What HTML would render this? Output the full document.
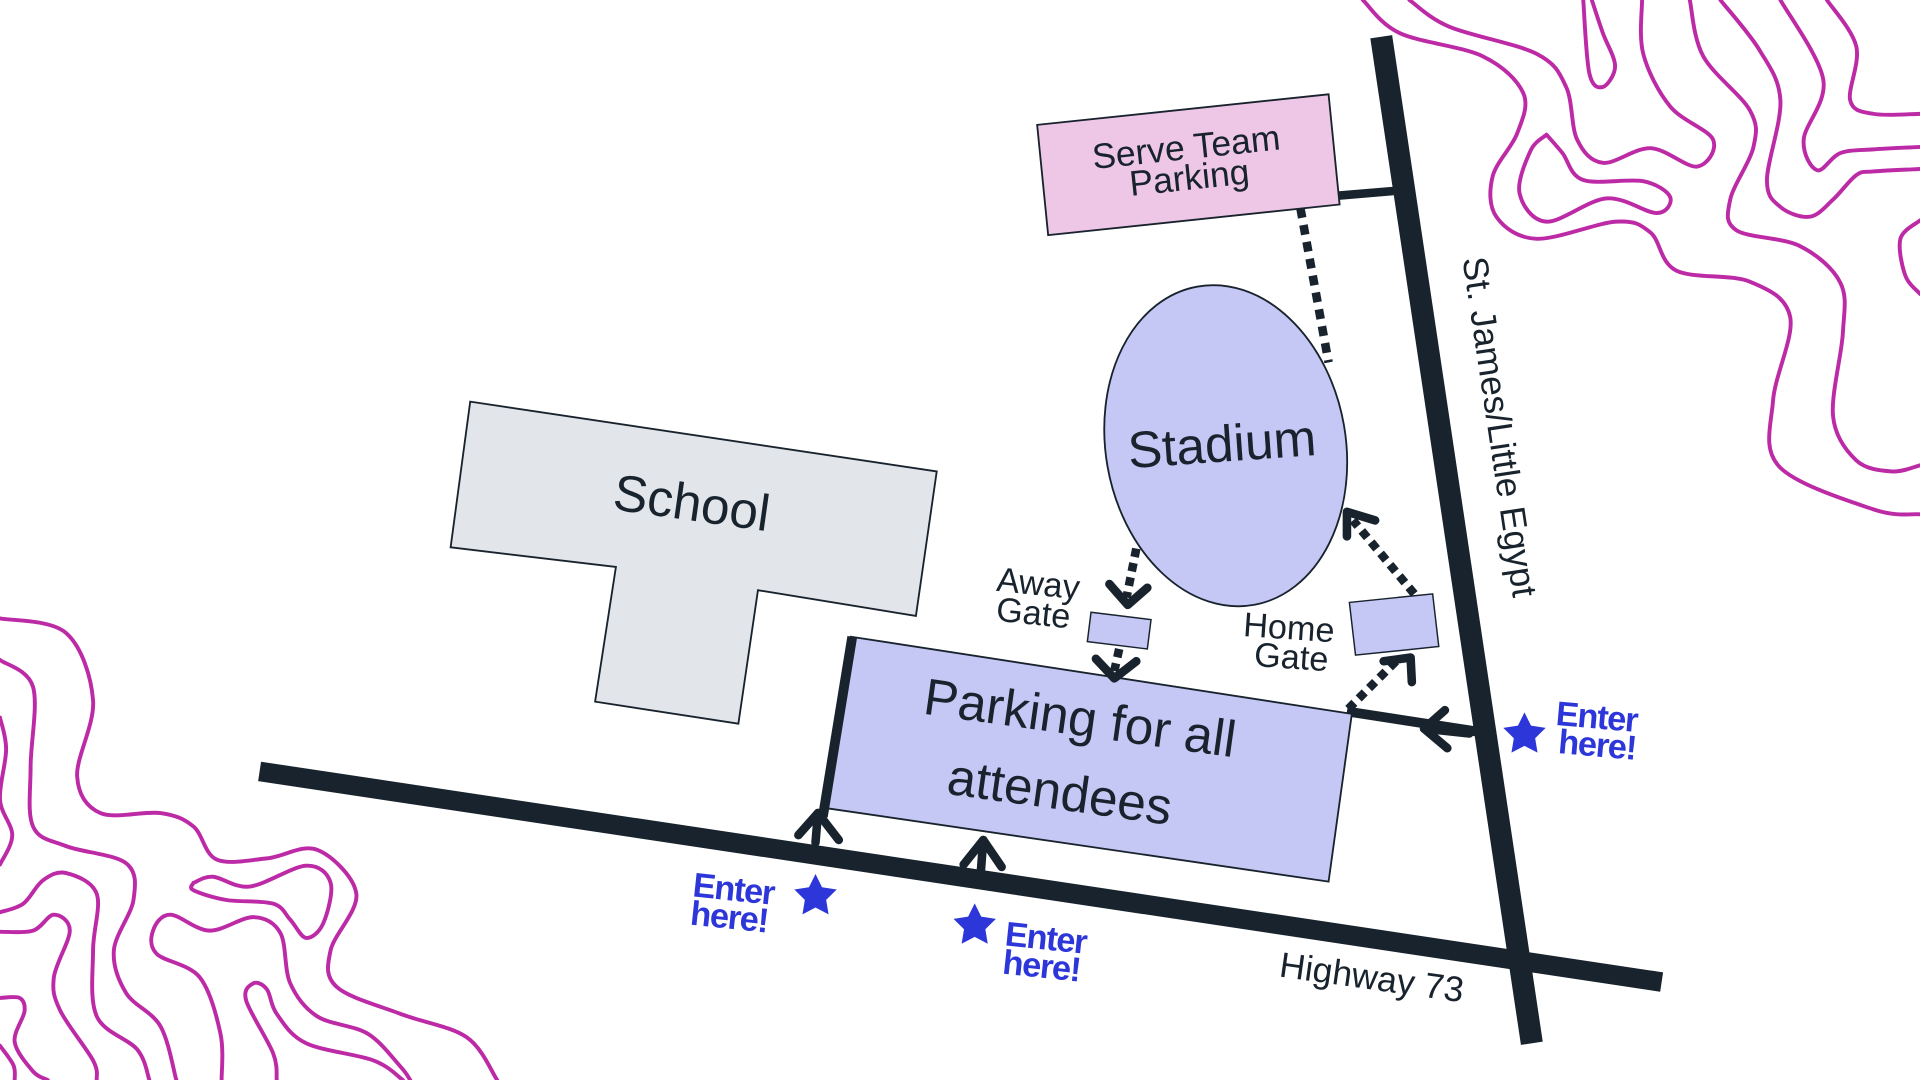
<!DOCTYPE html>
<html><head><meta charset="utf-8"><style>
html,body{margin:0;padding:0;background:#fff;width:1920px;height:1080px;overflow:hidden}
svg{display:block}
text{font-family:"Liberation Sans",sans-serif}
</style></head><body>
<svg id="s" width="1920" height="1080" viewBox="0 0 1568 882" xmlns="http://www.w3.org/2000/svg">
<g id="sq" fill="none" stroke="#bd2aa6" stroke-width="3.2" stroke-linecap="round" stroke-linejoin="round"></g>

<!-- roads -->
<g stroke="#18232d" stroke-linecap="butt">
<line x1="212" y1="630" x2="1357" y2="802" stroke-width="16"/>
<line x1="1128" y1="30" x2="1251" y2="852" stroke-width="18"/>
<line x1="1090" y1="160" x2="1138" y2="156" stroke-width="7"/>
<line x1="1100" y1="581" x2="1210" y2="598" stroke-width="8"/>
</g>

<!-- School -->
<polygon points="384,328 765,385 748,503 619,482 603,591 486,573 503,463 368,447" fill="#e2e5ea" stroke="#18232d" stroke-width="1.5"/>
<text x="565" y="425" font-size="42" fill="#18232d" text-anchor="middle" transform="rotate(8 565 410)">School</text>

<!-- Serve team -->
<polygon points="847,102 1085,77 1094,167 856,192" fill="#eec6e6" stroke="#18232d" stroke-width="1.5"/>
<g transform="rotate(-6 970 133)" fill="#18232d" font-size="29" text-anchor="middle">
<text x="970" y="130">Serve Team</text><text x="970" y="155">Parking</text></g>

<line x1="1062" y1="170" x2="1085" y2="296" stroke="#18232d" stroke-width="7" stroke-dasharray="8,6"/>

<!-- Stadium -->
<ellipse cx="1001" cy="364" rx="98" ry="132" transform="rotate(-10 1001 364)" fill="#c5c8f5" stroke="#18232d" stroke-width="1.5"/>
<text x="998" y="377" font-size="42" fill="#18232d" text-anchor="middle" transform="rotate(-4 998 364)">Stadium</text>

<!-- Parking -->
<polygon points="695,520 1104,583 1085,720 675,660" fill="#c5c8f5" stroke="#18232d" stroke-width="1.5"/>
<line x1="696" y1="520" x2="672" y2="667" stroke="#18232d" stroke-width="8"/>
<g fill="#18232d" font-size="42" text-anchor="middle" transform="rotate(8 875 615)">
<text x="878" y="600">Parking for all</text><text x="870" y="662">attendees</text></g>

<!-- gates -->
<polygon points="891,500 940,506 937,530 888,524" fill="#c5c8f5" stroke="#18232d" stroke-width="1.2"/>
<polygon points="1102,492 1170,485 1175,528 1107,535" fill="#c5c8f5" stroke="#18232d" stroke-width="1.2"/>
<g fill="#18232d" font-size="28" text-anchor="middle">
<text x="847" y="486" transform="rotate(6 847 486)">Away</text>
<text x="843" y="510" transform="rotate(6 843 510)">Gate</text>
<text x="1052" y="522" transform="rotate(4 1052 522)">Home</text>
<text x="1054" y="546" transform="rotate(4 1054 546)">Gate</text>
</g>

<!-- dotted arrows -->
<g stroke="#18232d" stroke-width="7" fill="none">
<line x1="928" y1="448" x2="920" y2="488" stroke-dasharray="7,5"/>
<line x1="914" y1="530" x2="910" y2="548" stroke-dasharray="7,5"/>
<line x1="1155" y1="485" x2="1105" y2="425" stroke-dasharray="7,5"/>
<line x1="1140" y1="540" x2="1100" y2="580" stroke-dasharray="7,5"/>
</g>
<g stroke="#18232d" stroke-width="7" fill="none" stroke-linecap="round" stroke-linejoin="round">
<polyline points="906,477 921,494 937,480"/>
<polyline points="895,538 910,554 928,540"/>
<polyline points="1100,438 1100,418 1123,425"/>
<polyline points="1130,540 1152,537 1153,557"/>
<polyline points="652,682 668,664 685,686"/>
<line x1="668" y1="664" x2="666" y2="688"/>
<polyline points="787,706 803,686 818,708"/>
<line x1="803" y1="686" x2="801" y2="712"/>
<polyline points="1180,580 1163,595 1182,611"/>
<line x1="1163" y1="595" x2="1200" y2="599"/>
</g>

<!-- stars & enter -->
<g fill="#2d36d9">
<path transform="translate(1245,600) scale(1.3)" d="M0,-14 L4.1,-5.7 L13.3,-4.3 L6.7,2.2 L8.2,11.3 L0,7 L-8.2,11.3 L-6.7,2.2 L-13.3,-4.3 L-4.1,-5.7Z"/>
<path transform="translate(666,732) scale(1.3)" d="M0,-14 L4.1,-5.7 L13.3,-4.3 L6.7,2.2 L8.2,11.3 L0,7 L-8.2,11.3 L-6.7,2.2 L-13.3,-4.3 L-4.1,-5.7Z"/>
<path transform="translate(796,756) scale(1.3)" d="M0,-14 L4.1,-5.7 L13.3,-4.3 L6.7,2.2 L8.2,11.3 L0,7 L-8.2,11.3 L-6.7,2.2 L-13.3,-4.3 L-4.1,-5.7Z"/>
<g font-size="28" font-weight="bold" letter-spacing="-1">
<text x="1270" y="592" transform="rotate(5 1270 592)">Enter</text>
<text x="1272" y="615" transform="rotate(5 1272 615)">here!</text>
<text x="565" y="732" transform="rotate(6 565 732)">Enter</text>
<text x="563" y="755" transform="rotate(6 563 755)">here!</text>
<text x="820" y="772" transform="rotate(6 820 772)">Enter</text>
<text x="818" y="795" transform="rotate(6 818 795)">here!</text>
</g></g>

<text x="1120" y="808" font-size="29" fill="#18232d" text-anchor="middle" transform="rotate(8 1120 800)">Highway 73</text>
<text x="1215" y="350" font-size="29" fill="#18232d" text-anchor="middle" transform="rotate(81.5 1215 350)">St. James/Little Egypt</text>
</svg>
<script>
var curves=[
[[1113,0],[1143,27],[1211,46],[1244,76],[1239,109],[1219,144],[1222,177],[1255,195],[1320,181],[1348,190],[1369,221],[1429,230],[1462,259],[1448,327],[1453,381],[1530,416],[1568,420]],
[[1151,0],[1184,22],[1255,44],[1279,71],[1288,114],[1309,133],[1348,121],[1386,136],[1399,114],[1364,87],[1342,44],[1341,0]],
[[1293,0],[1298,60],[1309,71],[1319,54],[1309,27],[1300,0]],
[[1263,110],[1250,123],[1241,158],[1263,181],[1312,162],[1353,174],[1364,161],[1342,148],[1293,147],[1276,125],[1263,110]],
[[1380,0],[1391,46],[1429,90],[1432,120],[1413,163],[1418,188],[1470,201],[1503,231],[1505,272],[1497,340],[1516,376],[1545,385],[1568,380]],
[[1405,0],[1437,41],[1454,82],[1443,147],[1454,169],[1478,177],[1497,163],[1516,143],[1530,140],[1568,138]],
[[1454,0],[1489,65],[1473,114],[1484,139],[1503,125],[1530,122],[1568,120]],
[[1492,0],[1516,38],[1511,82],[1530,93],[1568,93]],
[[1568,180],[1552,195],[1556,225],[1568,240]],
[[0,505],[54,517],[76,572],[63,634],[82,664],[131,664],[158,675],[177,702],[218,701],[259,694],[291,730],[270,776],[275,806],[327,828],[381,847],[406,882]],
[[0,539],[27,561],[25,626],[27,675],[54,691],[103,705],[109,735],[93,776],[103,811],[131,838],[144,882]],
[[0,586],[5,612],[0,653],[10,682],[0,706]],
[[0,745],[19,738],[35,719],[54,713],[79,730],[76,776],[79,830],[112,857],[122,882]],
[[0,761],[27,760],[44,747],[57,760],[44,798],[49,825],[76,866],[79,882]],
[[0,815],[16,815],[20,826],[12,851],[27,875],[39,882]],
[[0,854],[11,870],[12,882]],
[[158,721],[174,716],[204,724],[250,707],[270,721],[264,754],[250,766],[237,751],[223,738],[185,735],[158,727],[158,721]],
[[181,882],[180,844],[163,798],[128,779],[125,760],[139,747],[171,760],[207,749],[229,762],[237,803],[259,830],[300,844],[327,871],[335,882]],
[[226,882],[223,860],[201,817],[207,803],[218,808],[226,828],[250,852],[305,866],[329,882]]
];
var g=document.getElementById('sq'),ns='http://www.w3.org/2000/svg';
curves.forEach(function(p){
 var d='M'+p[0][0]+','+p[0][1];
 for(var i=0;i<p.length-1;i++){
  var p0=p[i-1]||p[i],p1=p[i],p2=p[i+1],p3=p[i+2]||p2;
  var c1x=p1[0]+(p2[0]-p0[0])/6,c1y=p1[1]+(p2[1]-p0[1])/6;
  var c2x=p2[0]-(p3[0]-p1[0])/6,c2y=p2[1]-(p3[1]-p1[1])/6;
  d+=' C'+c1x.toFixed(1)+','+c1y.toFixed(1)+' '+c2x.toFixed(1)+','+c2y.toFixed(1)+' '+p2[0]+','+p2[1];
 }
 var e=document.createElementNS(ns,'path');e.setAttribute('d',d);g.appendChild(e);
});
</script>
</body></html>
